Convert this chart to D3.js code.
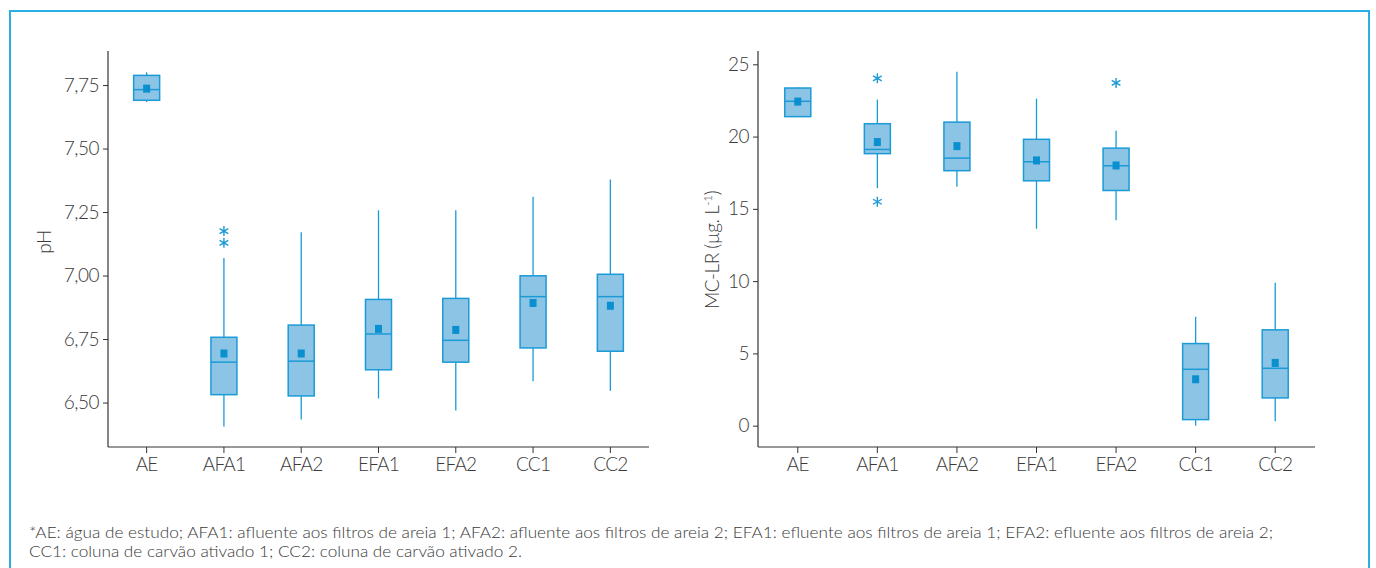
<!DOCTYPE html>
<html>
<head>
<meta charset="utf-8">
<script src="https://cdn.jsdelivr.net/npm/d3@7"></script>
<style>
  html, body { margin: 0; padding: 0; background: #fff; }
  svg { display: block; }
  text { font-family: Lato, "Open Sans", sans-serif; font-weight: 300; fill: #3a3a3a; }
</style>
</head>
<body>
<svg id="chart" width="1376" height="568"></svg>
<script>
// ---------- data ----------
const categories = ["AE", "AFA1", "AFA2", "EFA1", "EFA2", "CC1", "CC2"];

// pH
const phMin    = [7.683, 6.406, 6.433, 6.516, 6.469, 6.584, 6.546];
const phQ1     = [7.690, 6.531, 6.526, 6.629, 6.659, 6.715, 6.702];
const phMedian = [7.732, 6.659, 6.663, 6.770, 6.745, 6.917, 6.917];
const phQ3     = [7.788, 6.757, 6.805, 6.906, 6.910, 6.999, 7.005];
const phMax    = [7.800, 7.069, 7.170, 7.257, 7.257, 7.310, 7.378];
const phMean   = [7.736, 6.693, 6.693, 6.790, 6.786, 6.892, 6.881];
const phOutlierCats   = ["AFA1", "AFA1"];
const phOutlierValues = [7.129, 7.175];
const phTicks = [6.50, 6.75, 7.00, 7.25, 7.50, 7.75];

// MC-LR (µg/L)
const mcMin    = [21.35, 16.43, 16.53, 13.62, 14.22, 0.00, 0.30];
const mcQ1     = [21.38, 18.82, 17.64, 16.94, 16.27, 0.42, 1.92];
const mcMedian = [22.44, 19.11, 18.51, 18.26, 17.98, 3.90, 3.97];
const mcQ3     = [23.36, 20.89, 21.00, 19.81, 19.20, 5.68, 6.63];
const mcMax    = [23.40, 22.56, 24.49, 22.62, 20.41, 7.53, 9.88];
const mcMean   = [22.42, 19.62, 19.34, 18.35, 18.00, 3.21, 4.34];
const mcOutlierCats   = ["AFA1", "AFA1", "EFA2"];
const mcOutlierValues = [24.03, 15.49, 23.71];
const mcTicks = [0, 5, 10, 15, 20, 25];

const footnoteLines = [
  "*AE: água de estudo; AFA1: afluente aos filtros de areia 1; AFA2: afluente aos filtros de areia 2; EFA1: efluente aos filtros de areia 1; EFA2: efluente aos filtros de areia 2;",
  "CC1: coluna de carvão ativado 1; CC2: coluna de carvão ativado 2."
];

// ---------- styles ----------
const BOX_FILL = "#8cc4e6";
const BLUE = "#1b9ad6";
const MEAN = "#0a8fcf";
const BORDER = "#2aaee4";
const AXIS = "#333";

const svg = d3.select("#chart");

// frame
svg.append("rect")
  .attr("x", 10).attr("y", 11).attr("width", 1359).attr("height", 620)
  .attr("fill", "none").attr("stroke", BORDER).attr("stroke-width", 2);

function drawPanel(opts) {
  const { x0, x1, yTop, yBot, domain, ticks, fmt, min, q1, med, q3, max, mean,
          outCats, outVals, label, labelX, labelY } = opts;
  const g = svg.append("g");
  const x = d3.scaleBand().domain(categories).range([x0, x1]).paddingInner(0).paddingOuter(0);
  const y = d3.scaleLinear().domain(domain).range([yBot, yTop]);
  const cx = c => x(c) + x.bandwidth() / 2;
  const bw = 26;

  // axes
  const yAxis = d3.axisLeft(y).tickValues(ticks).tickFormat(fmt).tickSize(5).tickPadding(4);
  const gy = g.append("g").attr("transform", `translate(${x0},0)`).call(yAxis);
  gy.select(".domain").attr("d", `M0,${yTop}V${yBot}`);
  const xAxis = d3.axisBottom(x).tickSize(6).tickPadding(5);
  const gx = g.append("g").attr("transform", `translate(0,${yBot})`).call(xAxis);
  gx.select(".domain").attr("d", `M${x0},0H${x1}`);
  [gx, gy].forEach(a => {
    a.select(".domain").attr("stroke", AXIS).attr("stroke-width", 1.2);
    a.selectAll(".tick line").attr("stroke", AXIS).attr("stroke-width", 1);
    a.selectAll(".tick text").attr("font-size", 19).attr("fill", "#3a3a3a")
      .style("font-family", "Lato, 'Open Sans', sans-serif").style("font-weight", 300);
  });
  gx.selectAll(".tick text").attr("letter-spacing", -0.8);
  gy.selectAll(".tick text").attr("letter-spacing", -0.5);

  const rows = categories.map((c, i) => ({ c, min: min[i], q1: q1[i], med: med[i], q3: q3[i], max: max[i], mean: mean[i] }));

  const box = g.selectAll(".bx").data(rows).enter().append("g");
  // whiskers
  box.append("line")
    .attr("x1", d => cx(d.c)).attr("x2", d => cx(d.c))
    .attr("y1", d => y(d.q3)).attr("y2", d => y(d.max))
    .attr("stroke", BLUE).attr("stroke-width", 1.3);
  box.append("line")
    .attr("x1", d => cx(d.c)).attr("x2", d => cx(d.c))
    .attr("y1", d => y(d.q1)).attr("y2", d => y(d.min))
    .attr("stroke", BLUE).attr("stroke-width", 1.3);
  // boxes
  box.append("rect")
    .attr("x", d => cx(d.c) - bw / 2).attr("width", bw)
    .attr("y", d => y(d.q3)).attr("height", d => y(d.q1) - y(d.q3))
    .attr("fill", BOX_FILL).attr("stroke", BLUE).attr("stroke-width", 1.5);
  // medians
  box.append("line")
    .attr("x1", d => cx(d.c) - bw / 2).attr("x2", d => cx(d.c) + bw / 2)
    .attr("y1", d => y(d.med)).attr("y2", d => y(d.med))
    .attr("stroke", BLUE).attr("stroke-width", 1.5);
  // means
  box.append("rect")
    .attr("x", d => cx(d.c) - 3.5).attr("width", 7)
    .attr("y", d => y(d.mean) - 4).attr("height", 8)
    .attr("fill", MEAN);

  // outliers (asterisks)
  const outs = outCats.map((c, i) => ({ c, v: outVals[i] }));
  const r = 5;
  const star = `M0,${-r}V${r}M${-r * 0.87},${-r * 0.5}L${r * 0.87},${r * 0.5}M${-r * 0.87},${r * 0.5}L${r * 0.87},${-r * 0.5}`;
  g.selectAll(".out").data(outs).enter().append("path")
    .attr("transform", d => `translate(${cx(d.c)},${y(d.v)})`)
    .attr("d", star).attr("fill", "none").attr("stroke", BLUE).attr("stroke-width", 1.4);

  // y label
  const lt = g.append("text")
    .attr("transform", `translate(${labelX},${labelY}) rotate(-90)`)
    .attr("text-anchor", "middle").attr("font-size", 19).attr("letter-spacing", -0.5);
  label(lt);
}

const commaFmt = v => d3.format(".2f")(v).replace(".", ",");

drawPanel({
  x0: 108, x1: 649, yTop: 51, yBot: 447,
  domain: [6.325, 7.884], ticks: phTicks, fmt: commaFmt,
  min: phMin, q1: phQ1, med: phMedian, q3: phQ3, max: phMax, mean: phMean,
  outCats: phOutlierCats, outVals: phOutlierValues,
  label: t => t.text("pH"), labelX: 51, labelY: 242
});

drawPanel({
  x0: 758, x1: 1315, yTop: 51, yBot: 447,
  domain: [-1.475, 25.92], ticks: mcTicks, fmt: d3.format("d"),
  min: mcMin, q1: mcQ1, med: mcMedian, q3: mcQ3, max: mcMax, mean: mcMean,
  outCats: mcOutlierCats, outVals: mcOutlierValues,
  label: t => {
    t.append("tspan").text("MC-LR (µg. L");
    t.append("tspan").attr("dy", -7).attr("font-size", 12).text("-1");
    t.append("tspan").attr("dy", 7).text(")");
  },
  labelX: 719, labelY: 250
});

// footnote
svg.append("text").attr("x", 29).attr("y", 538).attr("font-size", 16.5).attr("fill", "#333")
  .attr("textLength", 1244).attr("lengthAdjust", "spacingAndGlyphs")
  .text(footnoteLines[0]);
svg.append("text").attr("x", 29).attr("y", 557).attr("font-size", 16.5).attr("fill", "#333")
  .attr("textLength", 493).attr("lengthAdjust", "spacingAndGlyphs")
  .text(footnoteLines[1]);
</script>
</body>
</html>
